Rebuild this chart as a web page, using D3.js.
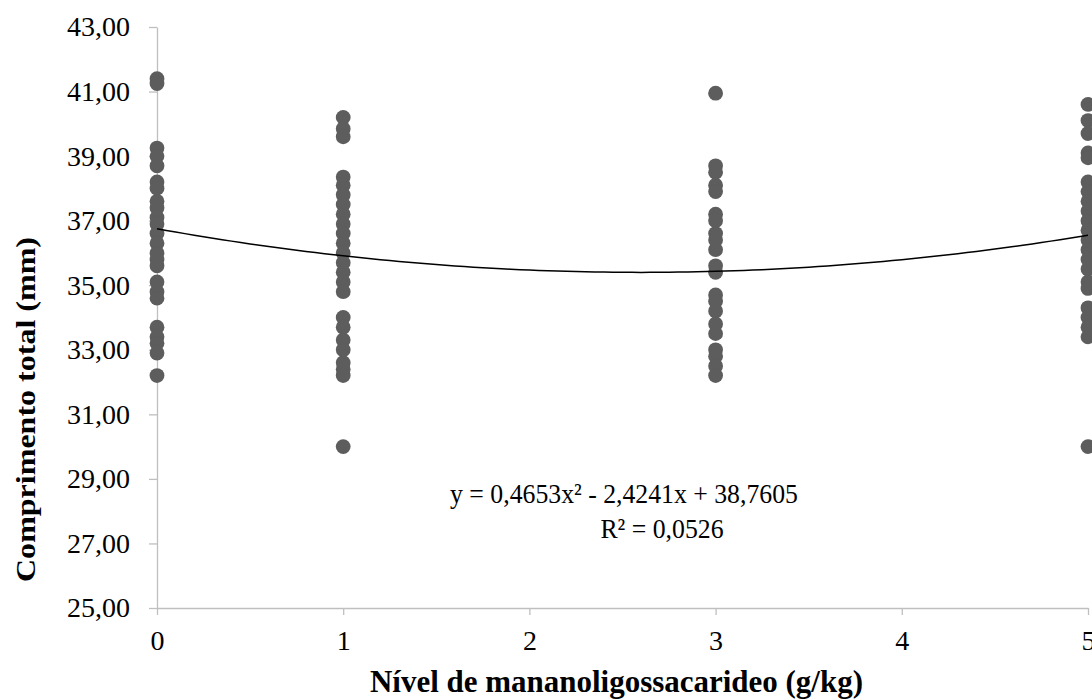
<!DOCTYPE html>
<html>
<head>
<meta charset="utf-8">
<script src="https://cdn.jsdelivr.net/npm/d3@7"></script>
<style>
  body { margin: 0; background: #fff; }
  text { font-family: "Liberation Serif", "Times New Roman", serif; }
</style>
</head>
<body>
<svg id="chart" width="1092" height="700"></svg>
<script>
// values
var levels = [0, 1, 3, 5];
var lengths0 = [41.4, 41.25, 39.25, 39.0, 38.7, 38.2, 38.0, 37.6, 37.4, 37.1, 36.9, 36.6, 36.3, 36.0, 35.8, 35.6, 35.1, 34.8, 34.6, 33.7, 33.4, 33.2, 32.9, 32.2];
var lengths1 = [40.2, 39.85, 39.6, 38.35, 38.1, 37.8, 37.5, 37.2, 36.9, 36.6, 36.3, 36.0, 35.7, 35.4, 35.1, 34.8, 34.0, 33.7, 33.3, 33.0, 32.6, 32.4, 32.2, 30.0];
var lengths3 = [40.95, 38.7, 38.5, 38.1, 37.9, 37.2, 37.0, 36.6, 36.4, 36.1, 35.6, 35.4, 34.7, 34.5, 34.2, 33.8, 33.5, 33.0, 32.8, 32.5, 32.2];
var lengths5 = [40.6, 40.1, 39.7, 39.1, 38.95, 38.2, 37.9, 37.6, 37.3, 37.0, 36.7, 36.4, 36.1, 35.8, 35.5, 35.1, 34.9, 34.3, 34.0, 33.7, 33.4, 30.0];
// trend curve as drawn (a, b, c)
var trendCoef = [0.2, -1.04, 36.75];
var yTicks = [25, 27, 29, 31, 33, 35, 37, 39, 41, 43];
var xTicks = [0, 1, 2, 3, 4, 5];
var eqLines = ["y = 0,4653x\u00b2 - 2,4241x + 38,7605", "R\u00b2 = 0,0526"];

var groups = [lengths0, lengths1, lengths3, lengths5];
var points = [];
groups.forEach(function (g, i) {
  g.forEach(function (v) { points.push({ x: levels[i], y: v }); });
});

var margin = { top: 27, right: 4, bottom: 92, left: 157 };
var width = 1092 - margin.left - margin.right;
var height = 700 - margin.top - margin.bottom;

var svg = d3.select("#chart");
var g = svg.append("g").attr("transform", "translate(" + margin.left + "," + margin.top + ")");

var x = d3.scaleLinear().domain([0, 5]).range([0, width]);
var y = d3.scaleLinear().domain([25, 43]).range([height, 0]);

var fmt = function (d) { return d3.format(".2f")(d).replace(".", ","); };

var yAxis = g.append("g")
  .call(d3.axisLeft(y).tickValues(yTicks).tickFormat(fmt).tickSize(8).tickSizeOuter(0).tickPadding(19));
var xAxis = g.append("g")
  .attr("transform", "translate(0," + height + ")")
  .call(d3.axisBottom(x).tickValues(xTicks).tickFormat(d3.format("d")).tickSize(7).tickSizeOuter(0).tickPadding(15));

[yAxis, xAxis].forEach(function (a) {
  a.select(".domain").attr("stroke", "#bfbfbf").attr("stroke-width", 1.3);
  a.selectAll(".tick line").attr("stroke", "#bfbfbf").attr("stroke-width", 1.3);
  a.selectAll(".tick text")
    .attr("fill", "#000")
    .style("font-family", "'Liberation Serif', serif")
    .style("font-size", "28px");
});

g.selectAll("circle.pt")
  .data(points)
  .enter()
  .append("circle")
  .attr("class", "pt")
  .attr("cx", function (d) { return x(d.x); })
  .attr("cy", function (d) { return y(d.y); })
  .attr("r", 7.4)
  .attr("fill", "#5d5d5d");

var curve = d3.range(0, 5.0001, 0.05).map(function (v) {
  return { x: v, y: trendCoef[0] * v * v + trendCoef[1] * v + trendCoef[2] };
});
g.append("path")
  .datum(curve)
  .attr("fill", "none")
  .attr("stroke", "#000")
  .attr("stroke-width", 1.5)
  .attr("d", d3.line().x(function (d) { return x(d.x); }).y(function (d) { return y(d.y); }));

// equation label (glyphs a little narrow, like the reference)
var sx = 0.92;
var eqPos = [{ x: 624, y: 503 }, { x: 662, y: 538 }];
var eq = svg.append("g").attr("transform", "scale(" + sx + ",1)");
eq.selectAll("text.eq")
  .data(eqLines)
  .enter()
  .append("text")
  .attr("class", "eq")
  .attr("x", function (d, i) { return eqPos[i].x / sx; })
  .attr("y", function (d, i) { return eqPos[i].y; })
  .attr("text-anchor", "middle")
  .style("font-size", "28px")
  .attr("fill", "#000")
  .text(function (d) { return d; });

svg.append("text")
  .attr("x", 370)
  .attr("y", 692)
  .attr("textLength", 493)
  .attr("lengthAdjust", "spacingAndGlyphs")
  .style("font-size", "31px")
  .style("font-weight", "bold")
  .text("Nível de mananoligossacarideo (g/kg)");

svg.append("text")
  .attr("transform", "translate(35,582) rotate(-90)")
  .attr("textLength", 345)
  .attr("lengthAdjust", "spacingAndGlyphs")
  .style("font-size", "27px")
  .style("font-weight", "bold")
  .text("Comprimento total (mm)");
</script>
</body>
</html>
